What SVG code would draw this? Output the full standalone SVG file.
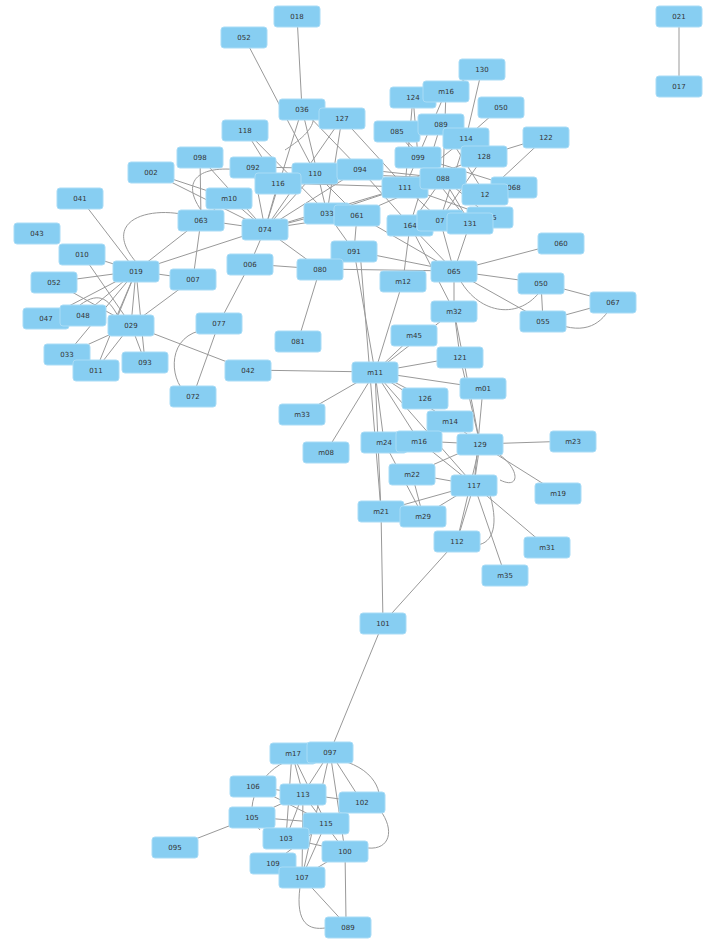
<svg xmlns="http://www.w3.org/2000/svg" width="724" height="946" viewBox="0 0 724 946">
<style>
.n rect{fill:#87CEF2;stroke:#a9dcf6;stroke-width:1}
.n text{font-family:"DejaVu Sans",sans-serif;font-size:7px;fill:#333;text-anchor:middle;dominant-baseline:central}
#edges path,#edges line{stroke:#999;stroke-width:1;fill:none}
</style>
<rect width="724" height="946" fill="#fff"/>
<g id="edges">
<line x1="679" y1="16" x2="679" y2="86"/>
<line x1="297" y1="16" x2="302" y2="109"/>
<line x1="244" y1="37" x2="315" y2="173"/>
<line x1="482" y1="69" x2="466" y2="138"/>
<line x1="482" y1="69" x2="446" y2="91"/>
<line x1="446" y1="91" x2="443" y2="178"/>
<line x1="446" y1="91" x2="405" y2="187"/>
<line x1="413" y1="97" x2="405" y2="187"/>
<line x1="413" y1="97" x2="418" y2="157"/>
<line x1="501" y1="107" x2="466" y2="138"/>
<line x1="546" y1="137" x2="484" y2="156"/>
<line x1="546" y1="137" x2="485" y2="194"/>
<line x1="397" y1="131" x2="443" y2="178"/>
<line x1="397" y1="131" x2="470" y2="223"/>
<line x1="441" y1="124" x2="485" y2="194"/>
<line x1="441" y1="124" x2="410" y2="225"/>
<line x1="466" y1="138" x2="440" y2="220"/>
<line x1="466" y1="138" x2="405" y2="187"/>
<line x1="484" y1="156" x2="405" y2="187"/>
<line x1="484" y1="156" x2="440" y2="220"/>
<line x1="418" y1="157" x2="490" y2="217"/>
<line x1="418" y1="157" x2="514" y2="187"/>
<line x1="443" y1="178" x2="410" y2="225"/>
<line x1="443" y1="178" x2="470" y2="223"/>
<line x1="405" y1="187" x2="490" y2="217"/>
<line x1="405" y1="187" x2="440" y2="220"/>
<line x1="360" y1="169" x2="443" y2="178"/>
<line x1="360" y1="169" x2="410" y2="225"/>
<line x1="302" y1="109" x2="360" y2="169"/>
<line x1="302" y1="109" x2="327" y2="213"/>
<line x1="302" y1="109" x2="265" y2="229"/>
<line x1="342" y1="118" x2="265" y2="229"/>
<line x1="342" y1="118" x2="405" y2="187"/>
<line x1="342" y1="118" x2="327" y2="213"/>
<line x1="245" y1="130" x2="278" y2="183"/>
<line x1="245" y1="130" x2="327" y2="213"/>
<line x1="200" y1="157" x2="201" y2="220"/>
<line x1="200" y1="157" x2="265" y2="229"/>
<line x1="151" y1="172" x2="229" y2="198"/>
<line x1="151" y1="172" x2="265" y2="229"/>
<line x1="253" y1="167" x2="265" y2="229"/>
<line x1="253" y1="167" x2="360" y2="169"/>
<line x1="278" y1="183" x2="265" y2="229"/>
<line x1="278" y1="183" x2="405" y2="187"/>
<line x1="315" y1="173" x2="265" y2="229"/>
<line x1="315" y1="173" x2="357" y2="215"/>
<line x1="315" y1="173" x2="443" y2="178"/>
<line x1="360" y1="169" x2="265" y2="229"/>
<line x1="229" y1="198" x2="265" y2="229"/>
<line x1="229" y1="198" x2="201" y2="220"/>
<line x1="201" y1="220" x2="136" y2="271"/>
<line x1="201" y1="220" x2="193" y2="279"/>
<line x1="201" y1="220" x2="265" y2="229"/>
<line x1="265" y1="229" x2="327" y2="213"/>
<line x1="265" y1="229" x2="357" y2="215"/>
<line x1="265" y1="229" x2="250" y2="264"/>
<line x1="265" y1="229" x2="320" y2="269"/>
<line x1="265" y1="229" x2="136" y2="271"/>
<line x1="265" y1="229" x2="405" y2="187"/>
<line x1="327" y1="213" x2="405" y2="187"/>
<line x1="327" y1="213" x2="354" y2="251"/>
<line x1="357" y1="215" x2="354" y2="251"/>
<line x1="357" y1="215" x2="454" y2="271"/>
<line x1="357" y1="215" x2="443" y2="178"/>
<line x1="410" y1="225" x2="454" y2="271"/>
<line x1="410" y1="225" x2="403" y2="281"/>
<line x1="440" y1="220" x2="454" y2="271"/>
<line x1="470" y1="223" x2="454" y2="271"/>
<line x1="410" y1="225" x2="454" y2="311"/>
<line x1="80" y1="198" x2="136" y2="271"/>
<line x1="82" y1="254" x2="136" y2="271"/>
<line x1="82" y1="254" x2="131" y2="325"/>
<line x1="54" y1="282" x2="136" y2="271"/>
<line x1="54" y1="282" x2="131" y2="325"/>
<line x1="46" y1="318" x2="136" y2="271"/>
<line x1="83" y1="315" x2="136" y2="271"/>
<line x1="136" y1="271" x2="193" y2="279"/>
<line x1="136" y1="271" x2="131" y2="325"/>
<line x1="136" y1="271" x2="96" y2="370"/>
<line x1="136" y1="271" x2="145" y2="362"/>
<line x1="136" y1="271" x2="67" y2="354"/>
<line x1="136" y1="271" x2="113" y2="325"/>
<line x1="193" y1="279" x2="131" y2="325"/>
<line x1="131" y1="325" x2="67" y2="354"/>
<line x1="131" y1="325" x2="96" y2="370"/>
<line x1="131" y1="325" x2="145" y2="362"/>
<line x1="131" y1="325" x2="248" y2="370"/>
<line x1="250" y1="264" x2="219" y2="323"/>
<line x1="219" y1="323" x2="193" y2="396"/>
<path d="M199,331 C165,340 170,385 190,396"/>
<line x1="320" y1="269" x2="298" y2="341"/>
<line x1="320" y1="269" x2="454" y2="271"/>
<line x1="320" y1="269" x2="250" y2="264"/>
<line x1="354" y1="251" x2="375" y2="372"/>
<line x1="360" y1="251" x2="381" y2="511"/>
<line x1="354" y1="251" x2="454" y2="271"/>
<line x1="403" y1="281" x2="375" y2="372"/>
<line x1="454" y1="271" x2="561" y2="243"/>
<line x1="454" y1="271" x2="541" y2="283"/>
<line x1="454" y1="271" x2="543" y2="321"/>
<line x1="454" y1="271" x2="454" y2="311"/>
<path d="M460,280 C480,315 520,320 541,290"/>
<line x1="541" y1="283" x2="613" y2="302"/>
<line x1="541" y1="283" x2="543" y2="321"/>
<line x1="543" y1="321" x2="613" y2="302"/>
<path d="M560,325 C590,335 605,320 613,302"/>
<line x1="454" y1="311" x2="460" y2="357"/>
<line x1="454" y1="311" x2="375" y2="372"/>
<line x1="454" y1="311" x2="480" y2="444"/>
<line x1="414" y1="335" x2="375" y2="372"/>
<line x1="460" y1="357" x2="375" y2="372"/>
<line x1="460" y1="357" x2="480" y2="444"/>
<line x1="248" y1="370" x2="375" y2="372"/>
<line x1="375" y1="372" x2="483" y2="388"/>
<line x1="375" y1="372" x2="302" y2="414"/>
<line x1="375" y1="372" x2="326" y2="452"/>
<line x1="375" y1="372" x2="425" y2="398"/>
<line x1="375" y1="372" x2="384" y2="442"/>
<line x1="375" y1="372" x2="419" y2="441"/>
<line x1="375" y1="372" x2="474" y2="485"/>
<line x1="375" y1="372" x2="381" y2="511"/>
<line x1="375" y1="372" x2="450" y2="421"/>
<line x1="483" y1="388" x2="474" y2="485"/>
<line x1="450" y1="421" x2="480" y2="444"/>
<line x1="419" y1="441" x2="480" y2="444"/>
<line x1="419" y1="441" x2="474" y2="485"/>
<line x1="384" y1="442" x2="423" y2="516"/>
<line x1="480" y1="444" x2="573" y2="441"/>
<line x1="480" y1="444" x2="558" y2="493"/>
<line x1="480" y1="444" x2="474" y2="485"/>
<line x1="480" y1="444" x2="457" y2="541"/>
<line x1="480" y1="444" x2="412" y2="474"/>
<path d="M500,455 C520,470 520,490 500,480"/>
<line x1="412" y1="474" x2="474" y2="485"/>
<line x1="412" y1="474" x2="423" y2="516"/>
<line x1="474" y1="485" x2="381" y2="511"/>
<line x1="474" y1="485" x2="423" y2="516"/>
<line x1="474" y1="485" x2="457" y2="541"/>
<line x1="474" y1="485" x2="547" y2="547"/>
<line x1="474" y1="485" x2="505" y2="575"/>
<path d="M490,495 C500,530 490,545 475,545"/>
<line x1="381" y1="511" x2="383" y2="623"/>
<line x1="457" y1="541" x2="383" y2="623"/>
<line x1="383" y1="623" x2="330" y2="752"/>
<line x1="175" y1="847" x2="252" y2="817"/>
<line x1="292" y1="753" x2="303" y2="794"/>
<line x1="292" y1="753" x2="326" y2="823"/>
<line x1="292" y1="753" x2="286" y2="838"/>
<line x1="330" y1="752" x2="303" y2="794"/>
<line x1="330" y1="752" x2="345" y2="851"/>
<line x1="330" y1="752" x2="302" y2="877"/>
<line x1="330" y1="752" x2="362" y2="802"/>
<line x1="253" y1="786" x2="303" y2="794"/>
<line x1="253" y1="786" x2="326" y2="823"/>
<line x1="303" y1="794" x2="286" y2="838"/>
<line x1="303" y1="794" x2="345" y2="851"/>
<line x1="303" y1="794" x2="302" y2="877"/>
<line x1="303" y1="794" x2="362" y2="802"/>
<line x1="252" y1="817" x2="326" y2="823"/>
<line x1="252" y1="817" x2="303" y2="794"/>
<line x1="326" y1="823" x2="302" y2="877"/>
<line x1="326" y1="823" x2="273" y2="863"/>
<line x1="286" y1="838" x2="345" y2="851"/>
<line x1="345" y1="851" x2="302" y2="877"/>
<line x1="302" y1="877" x2="348" y2="927"/>
<line x1="345" y1="851" x2="346" y2="920"/>
<path d="M300,887 C295,925 310,930 325,928"/>
<path d="M380,810 C395,830 390,850 368,848"/>
<path d="M290,760 C260,770 240,810 260,830"/>
<path d="M340,760 C380,770 385,800 375,810"/>
<path d="M302,100 C330,120 300,140 285,150"/>
<path d="M201,210 C180,180 200,165 240,170"/>
<path d="M136,262 C100,220 150,205 190,216"/>
<path d="M80,305 C100,290 110,300 120,320"/>
</g>
<g class="n" id="n018"><rect x="274" y="6" width="46" height="21" rx="3"/><text x="297" y="16.5">018</text></g>
<g class="n" id="n052a"><rect x="221" y="27" width="46" height="21" rx="3"/><text x="244" y="37.5">052</text></g>
<g class="n" id="n021"><rect x="656" y="6" width="46" height="21" rx="3"/><text x="679" y="16.5">021</text></g>
<g class="n" id="n017"><rect x="656" y="76" width="46" height="21" rx="3"/><text x="679" y="86.5">017</text></g>
<g class="n" id="n130"><rect x="459" y="59" width="46" height="21" rx="3"/><text x="482" y="69.5">130</text></g>
<g class="n" id="n124"><rect x="390" y="87" width="46" height="21" rx="3"/><text x="413" y="97.5">124</text></g>
<g class="n" id="nm16a"><rect x="423" y="81" width="46" height="21" rx="3"/><text x="446" y="91.5">m16</text></g>
<g class="n" id="n050a"><rect x="478" y="97" width="46" height="21" rx="3"/><text x="501" y="107.5">050</text></g>
<g class="n" id="n122"><rect x="523" y="127" width="46" height="21" rx="3"/><text x="546" y="137.5">122</text></g>
<g class="n" id="n085"><rect x="374" y="121" width="46" height="21" rx="3"/><text x="397" y="131.5">085</text></g>
<g class="n" id="n089a"><rect x="418" y="114" width="46" height="21" rx="3"/><text x="441" y="124.5">089</text></g>
<g class="n" id="n114"><rect x="443" y="128" width="46" height="21" rx="3"/><text x="466" y="138.5">114</text></g>
<g class="n" id="n099"><rect x="395" y="147" width="46" height="21" rx="3"/><text x="418" y="157.5">099</text></g>
<g class="n" id="n128"><rect x="461" y="146" width="46" height="21" rx="3"/><text x="484" y="156.5">128</text></g>
<g class="n" id="n036"><rect x="279" y="99" width="46" height="21" rx="3"/><text x="302" y="109.5">036</text></g>
<g class="n" id="n127"><rect x="319" y="108" width="46" height="21" rx="3"/><text x="342" y="118.5">127</text></g>
<g class="n" id="n118"><rect x="222" y="120" width="46" height="21" rx="3"/><text x="245" y="130.5">118</text></g>
<g class="n" id="n098"><rect x="177" y="147" width="46" height="21" rx="3"/><text x="200" y="157.5">098</text></g>
<g class="n" id="n002"><rect x="128" y="162" width="46" height="21" rx="3"/><text x="151" y="172.5">002</text></g>
<g class="n" id="n092"><rect x="230" y="157" width="46" height="21" rx="3"/><text x="253" y="167.5">092</text></g>
<g class="n" id="n110"><rect x="292" y="163" width="46" height="21" rx="3"/><text x="315" y="173.5">110</text></g>
<g class="n" id="n116"><rect x="255" y="173" width="46" height="21" rx="3"/><text x="278" y="183.5">116</text></g>
<g class="n" id="n094"><rect x="337" y="159" width="46" height="21" rx="3"/><text x="360" y="169.5">094</text></g>
<g class="n" id="n111"><rect x="382" y="177" width="46" height="21" rx="3"/><text x="405" y="187.5">111</text></g>
<g class="n" id="n088"><rect x="420" y="168" width="46" height="21" rx="3"/><text x="443" y="178.5">088</text></g>
<g class="n" id="n068"><rect x="491" y="177" width="46" height="21" rx="3"/><text x="514" y="187.5">068</text></g>
<g class="n" id="n12"><rect x="462" y="184" width="46" height="21" rx="3"/><text x="485" y="194.5">12</text></g>
<g class="n" id="n041"><rect x="57" y="188" width="46" height="21" rx="3"/><text x="80" y="198.5">041</text></g>
<g class="n" id="nm10"><rect x="206" y="188" width="46" height="21" rx="3"/><text x="229" y="198.5">m10</text></g>
<g class="n" id="n063"><rect x="178" y="210" width="46" height="21" rx="3"/><text x="201" y="220.5">063</text></g>
<g class="n" id="n074"><rect x="242" y="219" width="46" height="21" rx="3"/><text x="265" y="229.5">074</text></g>
<g class="n" id="n033a"><rect x="304" y="203" width="46" height="21" rx="3"/><text x="327" y="213.5">033</text></g>
<g class="n" id="n061"><rect x="334" y="205" width="46" height="21" rx="3"/><text x="357" y="215.5">061</text></g>
<g class="n" id="n164"><rect x="387" y="215" width="46" height="21" rx="3"/><text x="410" y="225.5">164</text></g>
<g class="n" id="n07"><rect x="417" y="210" width="46" height="21" rx="3"/><text x="440" y="220.5">07</text></g>
<g class="n" id="n125"><rect x="467" y="207" width="46" height="21" rx="3"/><text x="490" y="217.5">125</text></g>
<g class="n" id="n131"><rect x="447" y="213" width="46" height="21" rx="3"/><text x="470" y="223.5">131</text></g>
<g class="n" id="n043"><rect x="14" y="223" width="46" height="21" rx="3"/><text x="37" y="233.5">043</text></g>
<g class="n" id="n010"><rect x="59" y="244" width="46" height="21" rx="3"/><text x="82" y="254.5">010</text></g>
<g class="n" id="n019"><rect x="113" y="261" width="46" height="21" rx="3"/><text x="136" y="271.5">019</text></g>
<g class="n" id="n007"><rect x="170" y="269" width="46" height="21" rx="3"/><text x="193" y="279.5">007</text></g>
<g class="n" id="n006"><rect x="227" y="254" width="46" height="21" rx="3"/><text x="250" y="264.5">006</text></g>
<g class="n" id="n091"><rect x="331" y="241" width="46" height="21" rx="3"/><text x="354" y="251.5">091</text></g>
<g class="n" id="n080"><rect x="297" y="259" width="46" height="21" rx="3"/><text x="320" y="269.5">080</text></g>
<g class="n" id="n065"><rect x="431" y="261" width="46" height="21" rx="3"/><text x="454" y="271.5">065</text></g>
<g class="n" id="n060"><rect x="538" y="233" width="46" height="21" rx="3"/><text x="561" y="243.5">060</text></g>
<g class="n" id="nm12"><rect x="380" y="271" width="46" height="21" rx="3"/><text x="403" y="281.5">m12</text></g>
<g class="n" id="n052b"><rect x="31" y="272" width="46" height="21" rx="3"/><text x="54" y="282.5">052</text></g>
<g class="n" id="n050b"><rect x="518" y="273" width="46" height="21" rx="3"/><text x="541" y="283.5">050</text></g>
<g class="n" id="n067"><rect x="590" y="292" width="46" height="21" rx="3"/><text x="613" y="302.5">067</text></g>
<g class="n" id="n055"><rect x="520" y="311" width="46" height="21" rx="3"/><text x="543" y="321.5">055</text></g>
<g class="n" id="nm32"><rect x="431" y="301" width="46" height="21" rx="3"/><text x="454" y="311.5">m32</text></g>
<g class="n" id="n047"><rect x="23" y="308" width="46" height="21" rx="3"/><text x="46" y="318.5">047</text></g>
<g class="n" id="n048"><rect x="60" y="305" width="46" height="21" rx="3"/><text x="83" y="315.5">048</text></g>
<g class="n" id="n029"><rect x="108" y="315" width="46" height="21" rx="3"/><text x="131" y="325.5">029</text></g>
<g class="n" id="n077"><rect x="196" y="313" width="46" height="21" rx="3"/><text x="219" y="323.5">077</text></g>
<g class="n" id="n081"><rect x="275" y="331" width="46" height="21" rx="3"/><text x="298" y="341.5">081</text></g>
<g class="n" id="nm45"><rect x="391" y="325" width="46" height="21" rx="3"/><text x="414" y="335.5">m45</text></g>
<g class="n" id="n121"><rect x="437" y="347" width="46" height="21" rx="3"/><text x="460" y="357.5">121</text></g>
<g class="n" id="n033b"><rect x="44" y="344" width="46" height="21" rx="3"/><text x="67" y="354.5">033</text></g>
<g class="n" id="n093"><rect x="122" y="352" width="46" height="21" rx="3"/><text x="145" y="362.5">093</text></g>
<g class="n" id="n011"><rect x="73" y="360" width="46" height="21" rx="3"/><text x="96" y="370.5">011</text></g>
<g class="n" id="n042"><rect x="225" y="360" width="46" height="21" rx="3"/><text x="248" y="370.5">042</text></g>
<g class="n" id="nm11"><rect x="352" y="362" width="46" height="21" rx="3"/><text x="375" y="372.5">m11</text></g>
<g class="n" id="nm01"><rect x="460" y="378" width="46" height="21" rx="3"/><text x="483" y="388.5">m01</text></g>
<g class="n" id="n072"><rect x="170" y="386" width="46" height="21" rx="3"/><text x="193" y="396.5">072</text></g>
<g class="n" id="nm33"><rect x="279" y="404" width="46" height="21" rx="3"/><text x="302" y="414.5">m33</text></g>
<g class="n" id="n126"><rect x="402" y="388" width="46" height="21" rx="3"/><text x="425" y="398.5">126</text></g>
<g class="n" id="nm14"><rect x="427" y="411" width="46" height="21" rx="3"/><text x="450" y="421.5">m14</text></g>
<g class="n" id="nm08"><rect x="303" y="442" width="46" height="21" rx="3"/><text x="326" y="452.5">m08</text></g>
<g class="n" id="nm24"><rect x="361" y="432" width="46" height="21" rx="3"/><text x="384" y="442.5">m24</text></g>
<g class="n" id="nm16"><rect x="396" y="431" width="46" height="21" rx="3"/><text x="419" y="441.5">m16</text></g>
<g class="n" id="n129"><rect x="457" y="434" width="46" height="21" rx="3"/><text x="480" y="444.5">129</text></g>
<g class="n" id="nm23"><rect x="550" y="431" width="46" height="21" rx="3"/><text x="573" y="441.5">m23</text></g>
<g class="n" id="nm22"><rect x="389" y="464" width="46" height="21" rx="3"/><text x="412" y="474.5">m22</text></g>
<g class="n" id="n117"><rect x="451" y="475" width="46" height="21" rx="3"/><text x="474" y="485.5">117</text></g>
<g class="n" id="nm19"><rect x="535" y="483" width="46" height="21" rx="3"/><text x="558" y="493.5">m19</text></g>
<g class="n" id="nm21"><rect x="358" y="501" width="46" height="21" rx="3"/><text x="381" y="511.5">m21</text></g>
<g class="n" id="nm29"><rect x="400" y="506" width="46" height="21" rx="3"/><text x="423" y="516.5">m29</text></g>
<g class="n" id="n112"><rect x="434" y="531" width="46" height="21" rx="3"/><text x="457" y="541.5">112</text></g>
<g class="n" id="nm31"><rect x="524" y="537" width="46" height="21" rx="3"/><text x="547" y="547.5">m31</text></g>
<g class="n" id="nm35"><rect x="482" y="565" width="46" height="21" rx="3"/><text x="505" y="575.5">m35</text></g>
<g class="n" id="n101"><rect x="360" y="613" width="46" height="21" rx="3"/><text x="383" y="623.5">101</text></g>
<g class="n" id="nm17"><rect x="270" y="743" width="46" height="21" rx="3"/><text x="293" y="753.5">m17</text></g>
<g class="n" id="n097"><rect x="307" y="742" width="46" height="21" rx="3"/><text x="330" y="752.5">097</text></g>
<g class="n" id="n106"><rect x="230" y="776" width="46" height="21" rx="3"/><text x="253" y="786.5">106</text></g>
<g class="n" id="n102"><rect x="339" y="792" width="46" height="21" rx="3"/><text x="362" y="802.5">102</text></g>
<g class="n" id="n113"><rect x="280" y="784" width="46" height="21" rx="3"/><text x="303" y="794.5">113</text></g>
<g class="n" id="n105"><rect x="229" y="807" width="46" height="21" rx="3"/><text x="252" y="817.5">105</text></g>
<g class="n" id="n115"><rect x="303" y="813" width="46" height="21" rx="3"/><text x="326" y="823.5">115</text></g>
<g class="n" id="n103"><rect x="263" y="828" width="46" height="21" rx="3"/><text x="286" y="838.5">103</text></g>
<g class="n" id="n095"><rect x="152" y="837" width="46" height="21" rx="3"/><text x="175" y="847.5">095</text></g>
<g class="n" id="n100"><rect x="322" y="841" width="46" height="21" rx="3"/><text x="345" y="851.5">100</text></g>
<g class="n" id="n109"><rect x="250" y="853" width="46" height="21" rx="3"/><text x="273" y="863.5">109</text></g>
<g class="n" id="n107"><rect x="279" y="867" width="46" height="21" rx="3"/><text x="302" y="877.5">107</text></g>
<g class="n" id="n089"><rect x="325" y="917" width="46" height="21" rx="3"/><text x="348" y="927.5">089</text></g>
</svg>
